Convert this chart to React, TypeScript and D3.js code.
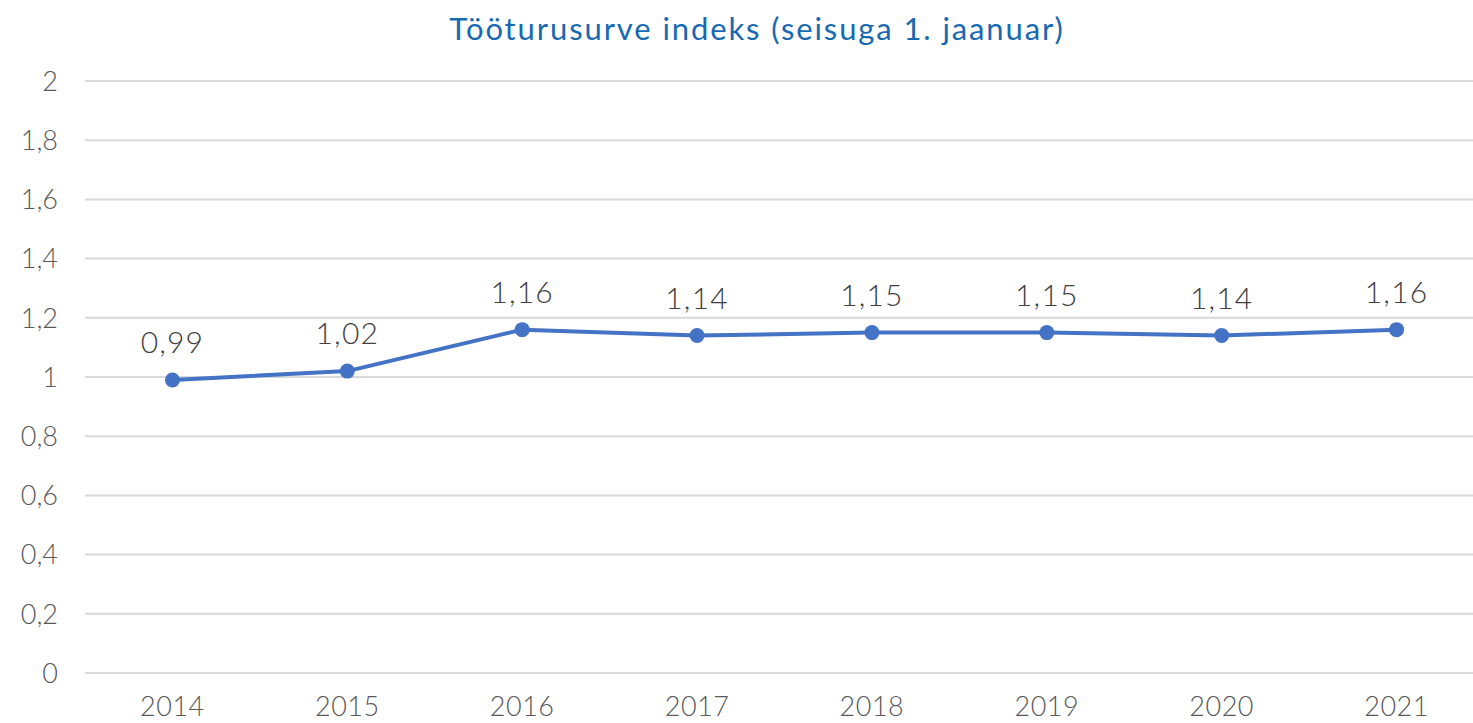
import React from "react";
import * as d3 from "d3";

const title = "Tööturusurve indeks (seisuga 1. jaanuar)";
const years = ["2014", "2015", "2016", "2017", "2018", "2019", "2020", "2021"];
const values = [0.99, 1.02, 1.16, 1.14, 1.15, 1.15, 1.14, 1.16];
const yTicks = [0, 0.2, 0.4, 0.6, 0.8, 1, 1.2, 1.4, 1.6, 1.8, 2];

const W = 1473;
const H = 723;
const FONT = "Lato, 'Open Sans', sans-serif";
const fmt = (v: number) => String(+v.toFixed(2)).replace(".", ",");

export default function App() {
  const x = d3.scaleBand<string>().domain(years).range([85, 1484]);
  const y = d3.scaleLinear().domain([0, 2]).range([673, 81]);
  const cx = (d: string) => (x(d) as number) + x.bandwidth() / 2;
  const line = d3
    .line<number>()
    .x((_, i) => cx(years[i]))
    .y((v) => y(v));

  return (
    <svg
      width={W}
      height={H}
      style={{ position: "absolute", left: 0, top: 0, background: "#fff" }}
      fontFamily={FONT}
    >
      <text
        x={757}
        y={40}
        textAnchor="middle"
        fontSize={31}
        letterSpacing={1.9}
        fill="#1769B2"
        fontWeight={400}
      >
        {title}
      </text>
      {yTicks.map((t) => (
        <g key={t}>
          <line x1={85} x2={W} y1={y(t)} y2={y(t)} stroke="#d9d9d9" strokeWidth={2} />
          <text
            x={58}
            y={y(t)}
            dy="0.36em"
            textAnchor="end"
            fontSize={27}
            fontWeight={300}
            fill="#595959"
          >
            {fmt(t)}
          </text>
        </g>
      ))}
      {years.map((yr) => (
        <text
          key={yr}
          x={cx(yr)}
          y={716}
          textAnchor="middle"
          fontSize={27}
          letterSpacing={0.5}
          fontWeight={300}
          fill="#595959"
        >
          {yr}
        </text>
      ))}
      <path d={line(values) || ""} fill="none" stroke="#4472C4" strokeWidth={4} strokeLinejoin="round" />
      {values.map((v, i) => (
        <g key={i}>
          <circle cx={cx(years[i])} cy={y(v)} r={7.5} fill="#4472C4" />
          <text
            x={cx(years[i])}
            y={y(v) - 27}
            textAnchor="middle"
            fontSize={30}
            letterSpacing={1.2}
            fontWeight={300}
            fill="#404040"
          >
            {fmt(v)}
          </text>
        </g>
      ))}
    </svg>
  );
}
